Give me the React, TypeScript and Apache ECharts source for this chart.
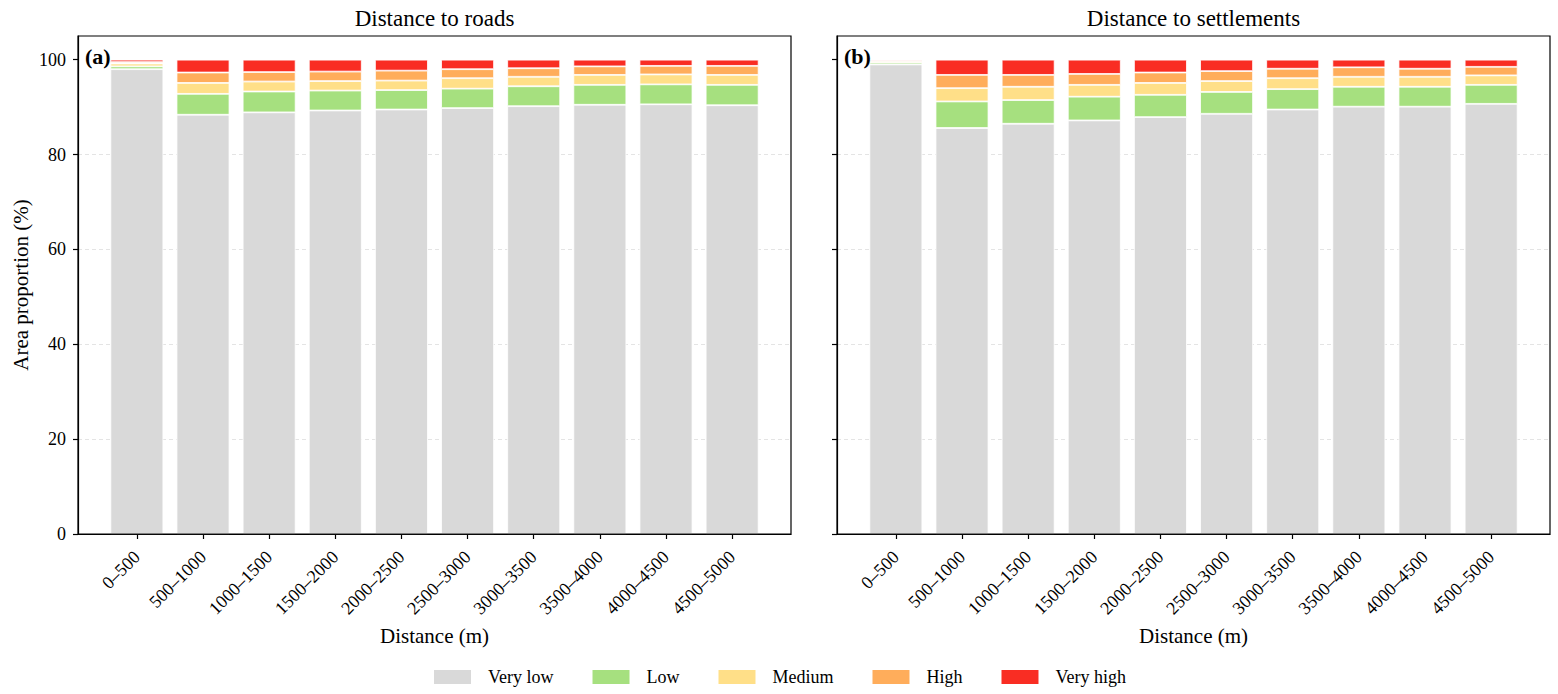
import { useEffect, useRef } from 'react';
import * as echarts from 'echarts';

// Distance bins on the x axis
const DISTANCE_BINS = [
  '0–500', '500–1000', '1000–1500', '1500–2000', '2000–2500',
  '2500–3000', '3000–3500', '3500–4000', '4000–4500', '4500–5000',
];
const LEVELS = ['Very low', 'Low', 'Medium', 'High', 'Very high'];
const LEVEL_COLORS = ['#d9d9d9', '#a6e07f', '#ffdf88', '#ffad5b', '#f92d23'];
const Y_TICKS = [0, 20, 40, 60, 80, 100];

// (a) Distance to roads — area proportion (%)
const ROADS_VERY_LOW = [98.0, 88.4, 88.9, 89.3, 89.5, 89.8, 90.2, 90.5, 90.6, 90.4];
const ROADS_LOW = [0.6, 4.4, 4.4, 4.2, 4.1, 4.1, 4.2, 4.2, 4.2, 4.3];
const ROADS_MEDIUM = [0.6, 2.3, 2.1, 2.0, 2.0, 2.2, 2.0, 2.1, 2.1, 2.1];
const ROADS_HIGH = [0.3, 2.2, 2.0, 2.0, 2.1, 1.9, 1.8, 1.8, 1.8, 1.9];
const ROADS_VERY_HIGH = [0.5, 2.7, 2.6, 2.5, 2.3, 2.0, 1.8, 1.4, 1.3, 1.3];

// (b) Distance to settlements — area proportion (%)
const SETTLE_VERY_LOW = [99.0, 85.6, 86.5, 87.2, 87.9, 88.6, 89.5, 90.1, 90.1, 90.7];
const SETTLE_LOW = [0.4, 5.6, 5.0, 5.0, 4.7, 4.6, 4.3, 4.2, 4.2, 4.0];
const SETTLE_MEDIUM = [0.2, 2.8, 2.8, 2.5, 2.5, 2.3, 2.3, 2.1, 2.1, 2.0];
const SETTLE_HIGH = [0.2, 2.8, 2.5, 2.3, 2.2, 2.1, 2.0, 2.0, 1.7, 1.8];
const SETTLE_VERY_HIGH = [0.2, 3.2, 3.2, 3.0, 2.7, 2.4, 1.9, 1.6, 1.9, 1.5];

const ROADS = [ROADS_VERY_LOW, ROADS_LOW, ROADS_MEDIUM, ROADS_HIGH, ROADS_VERY_HIGH];
const SETTLE = [SETTLE_VERY_LOW, SETTLE_LOW, SETTLE_MEDIUM, SETTLE_HIGH, SETTLE_VERY_HIGH];

const FONT = '"Liberation Serif", "DejaVu Serif", serif';
const TOP = 36;
const HEIGHT = 498;
const WIDTH = 713;
const LEFTS = [78, 837];
const X_MIN = -0.89;
const X_MAX = 9.89;

export default function App() {
  const ref = useRef<HTMLDivElement>(null);

  useEffect(() => {
    document.body.style.margin = '0';
    if (!ref.current) return;
    const chart = echarts.init(ref.current, undefined, { renderer: 'svg', width: 1558, height: 694 });

    const tickIdx = DISTANCE_BINS.map((_, i) => i);
    const barW = (WIDTH / (X_MAX - X_MIN)) * 0.8;

    const xAxis = LEFTS.map((_, g) => ({
      type: 'value', gridIndex: g, min: X_MIN, max: X_MAX,
      axisLine: { show: true, onZero: false, lineStyle: { color: '#000', width: 1.2 } },
      axisTick: { show: true, customValues: tickIdx, length: 5, lineStyle: { color: '#000', width: 1.2 } },
      axisLabel: {
        customValues: tickIdx, rotate: 45, margin: 20,
        formatter: (v: number) => DISTANCE_BINS[Math.round(v)] ?? '',
        fontSize: 18, color: '#000', fontFamily: FONT,
      },
      splitLine: { show: false },
      name: 'Distance (m)', nameLocation: 'middle', nameGap: 91,
      nameTextStyle: { fontSize: 21, color: '#000', fontFamily: FONT },
    }));

    const yAxis = LEFTS.map((_, g) => ({
      type: 'value', gridIndex: g, min: 0, max: 105, interval: 20,
      axisLine: { show: true, onZero: false, lineStyle: { color: '#000', width: 1.2 } },
      axisTick: { show: true, customValues: Y_TICKS, length: 5, lineStyle: { color: '#000', width: 1.2 } },
      axisLabel: {
        show: g === 0, customValues: Y_TICKS, margin: 12,
        fontSize: 18, color: '#000', fontFamily: FONT,
      },
      splitLine: {
        show: true, showMaxLine: false, showMinLine: false,
        lineStyle: { color: '#e4e4e4', type: [4, 3], width: 1 },
      },
      name: g === 0 ? 'Area proportion (%)' : '', nameLocation: 'middle', nameGap: 47,
      nameTextStyle: { fontSize: 21, color: '#000', fontFamily: FONT },
    }));

    // value first so the stack runs along y; the bin index is mapped to x
    const series = [ROADS, SETTLE].flatMap((panel, g) =>
      panel.map((vals, k) => ({
        type: 'bar', name: LEVELS[k], stack: 'panel' + g,
        xAxisIndex: g, yAxisIndex: g, barWidth: barW,
        encode: { x: 1, y: 0 },
        data: vals.map((v, i) => [v, i]),
        itemStyle: { color: LEVEL_COLORS[k], borderColor: '#fff', borderWidth: 0.8 },
      })),
    );

    const titles = ['Distance to roads', 'Distance to settlements'];
    const tags = ['(a)', '(b)'];

    chart.setOption({
      animation: false,
      grid: LEFTS.map((left) => ({ left, top: TOP, width: WIDTH, height: HEIGHT })),
      xAxis, yAxis, series,
      legend: {
        data: LEVELS, left: 'center', top: 663,
        icon: 'rect', itemWidth: 39, itemHeight: 16, itemGap: 37,
        textStyle: { fontSize: 18, color: '#000', fontFamily: FONT, padding: [0, 0, 0, 11] },
      },
      graphic: [
        ...LEFTS.map((left) => ({
          type: 'rect', z: 100, silent: true,
          shape: { x: left, y: TOP, width: WIDTH, height: HEIGHT },
          style: { fill: 'none', stroke: '#000', lineWidth: 1.2 },
        })),
        ...LEFTS.map((left, g) => ({
          type: 'text', z: 100, x: left + WIDTH / 2, y: 18,
          style: {
            text: titles[g], textAlign: 'center', textVerticalAlign: 'middle',
            fontSize: 23, fontFamily: FONT, fill: '#000',
          },
        })),
        ...LEFTS.map((left, g) => ({
          type: 'text', z: 100, x: left + 7, y: 56,
          style: {
            text: tags[g], textAlign: 'left', textVerticalAlign: 'middle',
            fontSize: 22, fontWeight: 'bold', fontFamily: FONT, fill: '#000',
          },
        })),
      ],
    });

    return () => chart.dispose();
  }, []);

  return <div ref={ref} style={{ width: 1558, height: 694 }} />;
}
